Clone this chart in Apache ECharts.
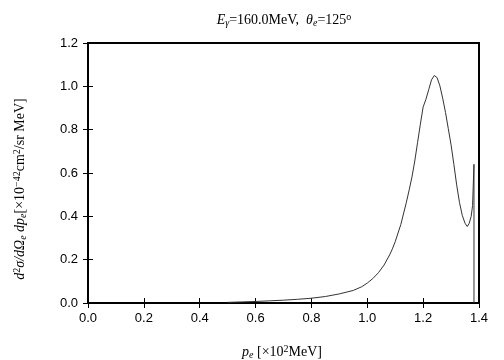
<!DOCTYPE html>
<html>
<head>
<meta charset="utf-8">
<script src="https://cdn.jsdelivr.net/npm/echarts@6/dist/echarts.min.js"></script>
<style>
  html, body { margin: 0; padding: 0; background: #fff; }
  #chart { width: 504px; height: 360px; }
</style>
</head>
<body>
<div id="chart"></div>
<script>
// electron momentum p_e [x10^2 MeV]
var pe = [0.50, 0.55, 0.60, 0.65, 0.70, 0.75, 0.80, 0.85, 0.90, 0.95,
  0.98, 1.00, 1.02, 1.04, 1.06, 1.08, 1.09, 1.10, 1.12, 1.14,
  1.15, 1.16, 1.17, 1.18, 1.19, 1.20, 1.21, 1.22, 1.23, 1.24,
  1.25, 1.26, 1.27, 1.28, 1.29, 1.30, 1.31, 1.32, 1.33, 1.34,
  1.35, 1.358, 1.365, 1.372, 1.377, 1.382, 1.382];
// d2sigma / dOmega dp [x10^-42 cm2/sr MeV]
var xsec = [0.003, 0.005, 0.007, 0.010, 0.013, 0.017, 0.022, 0.030, 0.042, 0.058,
  0.075, 0.092, 0.113, 0.140, 0.175, 0.222, 0.250, 0.283, 0.362, 0.465,
  0.522, 0.582, 0.655, 0.740, 0.825, 0.905, 0.940, 0.985, 1.030, 1.050,
  1.040, 1.002, 0.945, 0.880, 0.805, 0.730, 0.640, 0.545, 0.465, 0.405,
  0.368, 0.353, 0.368, 0.400, 0.450, 0.640, 0.0];
var xTicks = ['0.0', '0.2', '0.4', '0.6', '0.8', '1.0', '1.2', '1.4'];
var yTicks = ['0.0', '0.2', '0.4', '0.6', '0.8', '1.0', '1.2'];

var chart = echarts.init(document.getElementById('chart'));

var points = pe.map(function (x, i) { return [x, xsec[i]]; });

var tickFont = { fontFamily: 'Liberation Sans', fontSize: 13, color: '#000' };
var serif = 'Liberation Serif';

function baseAxis(extra) {
  return Object.assign({
    type: 'value',
    interval: 0.2,
    axisLine: { show: false },
    axisTick: { show: true, inside: true, length: 5, lineStyle: { color: '#000', width: 1 } },
    splitLine: { show: false }
  }, extra);
}

var richStyles = {
  i: { fontFamily: serif, fontStyle: 'italic', fontSize: 14, fill: '#000' },
  n: { fontFamily: serif, fontSize: 14, fill: '#000' },
  sub: { fontFamily: serif, fontStyle: 'italic', fontSize: 10, fill: '#000', verticalAlign: 'bottom', padding: [6, 0, 0, 0] },
  sup: { fontFamily: serif, fontSize: 10, fill: '#000', verticalAlign: 'top', padding: [0, 0, 6, 0] }
};

var option = {
  animation: false,
  backgroundColor: '#fff',
  grid: {
    left: 88, right: 25, top: 43, bottom: 57,
    show: true, borderColor: '#000', borderWidth: 2, backgroundColor: 'transparent'
  },
  xAxis: [
    baseAxis({
      min: 0, max: 1.4, position: 'bottom',
      axisLabel: Object.assign({ margin: 9, formatter: function (v) { return xTicks[Math.round(v / 0.2)]; } }, tickFont)
    }),
    baseAxis({ min: 0, max: 1.4, position: 'top', axisLabel: { show: false } })
  ],
  yAxis: [
    baseAxis({
      min: 0, max: 1.2, position: 'left',
      axisLabel: Object.assign({ margin: 10, formatter: function (v) { return yTicks[Math.round(v / 0.2)]; } }, tickFont)
    }),
    baseAxis({ min: 0, max: 1.2, position: 'right', axisLabel: { show: false } })
  ],
  series: [{
    type: 'line',
    data: points,
    showSymbol: false,
    lineStyle: { color: '#333', width: 1 }
  }],
  graphic: [
    {
      type: 'text', x: 284, y: 20,
      style: {
        text: '{i|E}{sub|γ}{n|=160.0MeV,  }{i|θ}{sub|e}{n|=125}{sup|o}',
        align: 'center', verticalAlign: 'middle', rich: richStyles
      }
    },
    {
      type: 'text', x: 282, y: 352,
      style: {
        text: '{i|p}{sub|e}{n| [×10}{sup|2}{n|MeV]}',
        align: 'center', verticalAlign: 'middle', rich: richStyles
      }
    },
    {
      type: 'text', x: 20, y: 189, rotation: Math.PI / 2,
      style: {
        text: '{i|d}{sup|2}{i|σ/dΩ}{sub|e}{i| dp}{sub|e}{n|[×10}{sup|−42}{n|cm}{sup|2}{n|/sr MeV]}',
        align: 'center', verticalAlign: 'middle', rich: richStyles
      }
    }
  ]
};

chart.setOption(option);
</script>
</body>
</html>
